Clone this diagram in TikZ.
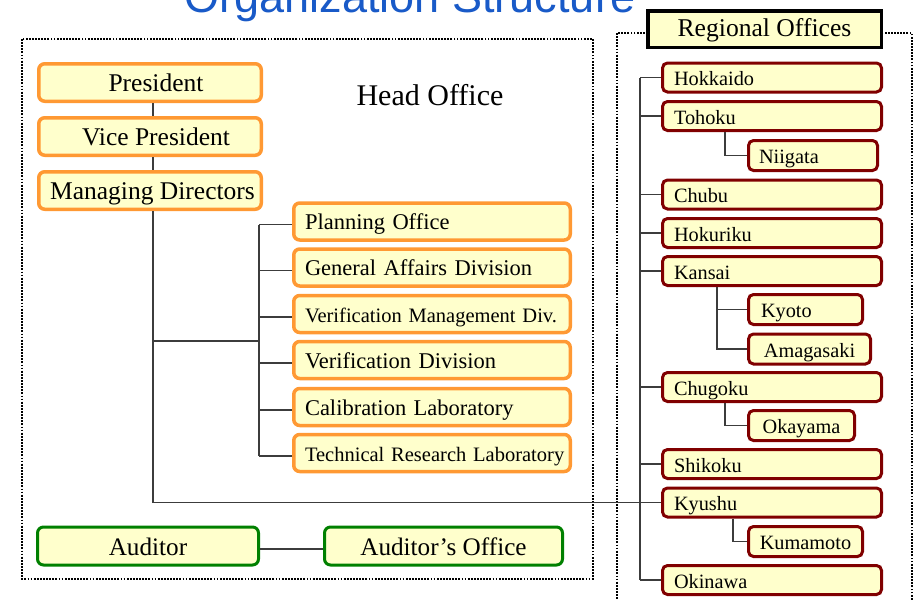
\documentclass[tikz,border=0pt]{standalone}
\usepackage{fontspec}
\setmainfont{Liberation Serif}
\newfontfamily\titlefont{Liberation Sans}
\definecolor{fillY}{RGB}{255,255,204}
\definecolor{orangeB}{RGB}{255,153,51}
\definecolor{redB}{RGB}{128,0,0}
\definecolor{greenB}{RGB}{0,128,0}
\definecolor{titleB}{RGB}{25,90,200}
\definecolor{connC}{RGB}{60,60,60}
\begin{document}
\begin{tikzpicture}[x=1pt,y=-1pt,
  fs/.style={font=\fontsize{#1}{#1}\selectfont},
  headbox/.style={draw=orangeB, line width=3.5pt, fill=fillY, rounded corners=6pt,
    minimum width=222.5pt, minimum height=37.5pt, inner sep=0pt, fs=25.5,
    text height=19.5pt, text depth=2.5pt},
  divbox/.style={draw=orangeB, line width=3.5pt, fill=fillY, rounded corners=6pt,
    text width=254pt, align=left, inner xsep=11.25pt, inner ysep=0pt,
    minimum height=37pt, fs=22.5, text height=19pt, text depth=2.4pt},
  regbox/.style={draw=redB, line width=3pt, fill=fillY, rounded corners=5pt,
    text width=196pt, align=left, inner xsep=11.5pt, inner ysep=0pt,
    minimum height=29pt, fs=20.3, text height=18.2pt, text depth=1.6pt},
  subbox/.style={draw=redB, line width=3pt, fill=fillY, rounded corners=5pt,
    inner sep=0pt, minimum height=30pt, fs=20.3, text height=18.2pt, text depth=1.6pt},
  audbox/.style={draw=greenB, line width=3pt, fill=fillY, rounded corners=6pt,
    inner sep=0pt, minimum height=38pt, fs=25.2, text height=20.5pt, text depth=2.5pt},
  titlebox/.style={draw=black, line width=3.5pt, fill=fillY, inner sep=0pt,
    minimum width=233.5pt, minimum height=36.5pt, fs=25.6,
    text height=17pt, text depth=3pt},
  dotbox/.style={draw=black, line width=1.8pt, dash pattern=on 1.8pt off 1.3pt},
  conn/.style={draw=connC, line width=1.1pt}
]
\clip (0,0) rectangle (914,600);
\fill[white] (0,0) rectangle (914,600);

% title (cut at the top)
\node[font=\titlefont\fontsize{45}{45}\selectfont, text=titleB, anchor=base, inner sep=0pt]
  (title) at (410,12.5) {Organization Structure};

% dotted frames
\draw[dotbox] (22,39) rectangle (593,579);
\draw[dotbox] (617,33) rectangle (912,640);

% head office
\node[fs=30, anchor=base, inner sep=0pt] (ho) at (430,105) {Head Office};
\node[headbox] (pres) at (150,82.5) {\hspace*{12pt}President};
\node[headbox] (vp)   at (150,136.5) {\hspace*{12pt}Vice President};
\node[headbox] (md)   at (150,190.5) {\hspace*{5pt}Managing Directors};

\node[divbox] (po)  at (432,221.5) {Planning Office};
\node[divbox] (ga)  at (432,267.5) {General Affairs Division};
\node[divbox, fs=20.5] (vmd) at (432,314) {\mbox{Verification Management Div.}};
\node[divbox] (vd)  at (432,360) {Verification Division};
\node[divbox] (cal) at (432,407) {Calibration Laboratory};
\node[divbox, fs=20.5] (trl) at (432,453) {\mbox{Technical Research Laboratory}};

\node[audbox, minimum width=221pt] (aud)  at (148,546) {Auditor};
\node[audbox, minimum width=238pt] (audo) at (443.5,546) {Auditor’s Office};

% regional offices
\node[titlebox] (ro) at (764.5,29) {Regional Offices};
\node[regbox] (hok) at (772,77.5) {Hokkaido};
\node[regbox] (toh) at (772,116) {Tohoku};
\node[subbox, text width=108pt, align=left, inner xsep=10.5pt] (nii) at (813,155.5) {Niigata};
\node[regbox] (chb) at (772,194.5) {Chubu};
\node[regbox] (hkr) at (772,233) {Hokuriku};
\node[regbox] (kan) at (772,271) {Kansai};
\node[subbox, text width=89pt, align=left, inner xsep=12.5pt] (kyo) at (805.5,309.5) {Kyoto};
\node[subbox, minimum width=122pt] (ama) at (809.5,349) {Amagasaki};
\node[regbox] (chg) at (772,387) {Chugoku};
\node[subbox, minimum width=106pt] (oka) at (801.5,425.5) {Okayama};
\node[regbox] (shk) at (772,464) {Shikoku};
\node[regbox] (kyu) at (772,502.5) {Kyushu};
\node[subbox, minimum width=114pt] (kum) at (805.5,541.5) {Kumamoto};
\node[regbox] (oki) at (772,580) {Okinawa};

% helper coordinates
\coordinate (mx) at (153,0);
\coordinate (bx) at (259,341);
\coordinate (rx) at (640,0);
\coordinate (tA) at (725,0);
\coordinate (tB) at (717,0);
\coordinate (tC) at (733,0);

% head office connectors
\draw[conn] (pres.south -| mx) -- (vp.north -| mx);
\draw[conn] (vp.south -| mx) -- (md.north -| mx);
\draw[conn] (md.south -| mx) -- (kyu.west -| mx) -- (kyu.west);
\draw[conn] (bx -| mx) -- (bx);
\foreach \n in {po,ga,vmd,vd,cal,trl}{
  \coordinate (t\n) at ([yshift=-3pt]\n.west);
}
\draw[conn] (tpo -| bx) -- (ttrl -| bx);
\foreach \n in {po,ga,vmd,vd,cal,trl}{
  \draw[conn] (t\n -| bx) -- (t\n);
}
\draw[conn] ([yshift=-3pt]aud.east) -- ([yshift=-3pt]audo.west);

% regional connectors
\draw[conn] (hok.west -| rx) -- (oki.west -| rx);
\foreach \n in {hok,toh,chb,hkr,kan,chg,shk,kyu,oki}{
  \draw[conn] (\n.west -| rx) -- (\n.west);
}
\draw[conn] (toh.south -| tA) |- (nii.west);
\draw[conn] (kan.south -| tB) |- (kyo.west);
\draw[conn] (kan.south -| tB) |- (ama.west);
\draw[conn] (chg.south -| tA) |- (oka.west);
\draw[conn] (kyu.south -| tC) |- (kum.west);
\end{tikzpicture}
\end{document}
